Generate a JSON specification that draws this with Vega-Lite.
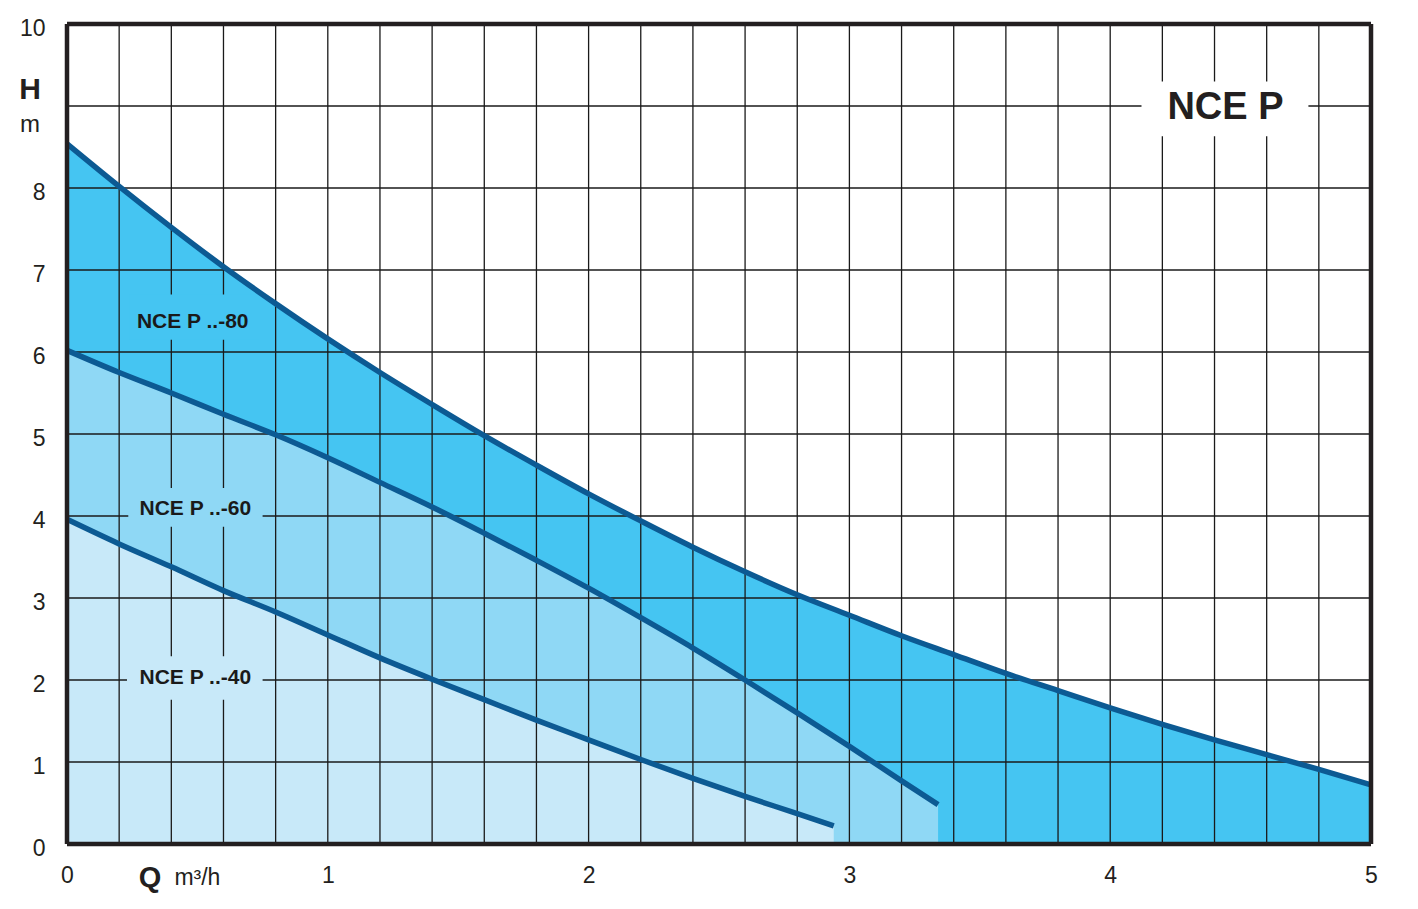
{
  "$schema": "https://vega.github.io/schema/vega-lite/v6.json",
  "autosize": {"type": "none"},
  "width": 1304,
  "height": 820,
  "padding": {"left": 67, "top": 24, "right": 47, "bottom": 65},
  "background": "white",
  "config": {
    "view": {"stroke": null},
    "font": "Liberation Sans",
    "axis": {"grid": false, "domain": false, "ticks": false, "labelFontSize": 23, "labelColor": "#231f20", "labelFont": "Liberation Sans", "title": null, "labelFlush": false, "labelOverlap": false},
    "axisX": {"labelPadding": 20},
    "axisY": {"labelPadding": 22, "labelOffset": 4}
  },
  "datasets": {
    "curves": [
      {"model": "80", "q": 0, "h": 8.54}, {"model": "80", "q": 0.2, "h": 8.02}, {"model": "80", "q": 0.4, "h": 7.52},
      {"model": "80", "q": 0.6, "h": 7.04}, {"model": "80", "q": 0.8, "h": 6.59}, {"model": "80", "q": 1.0, "h": 6.16},
      {"model": "80", "q": 1.2, "h": 5.75}, {"model": "80", "q": 1.4, "h": 5.36}, {"model": "80", "q": 1.6, "h": 4.98},
      {"model": "80", "q": 1.8, "h": 4.62}, {"model": "80", "q": 2.0, "h": 4.27}, {"model": "80", "q": 2.2, "h": 3.94},
      {"model": "80", "q": 2.4, "h": 3.62}, {"model": "80", "q": 2.6, "h": 3.32}, {"model": "80", "q": 2.8, "h": 3.04},
      {"model": "80", "q": 3.0, "h": 2.79}, {"model": "80", "q": 3.2, "h": 2.54}, {"model": "80", "q": 3.4, "h": 2.31},
      {"model": "80", "q": 3.6, "h": 2.08}, {"model": "80", "q": 3.8, "h": 1.87}, {"model": "80", "q": 4.0, "h": 1.66},
      {"model": "80", "q": 4.2, "h": 1.46}, {"model": "80", "q": 4.4, "h": 1.27}, {"model": "80", "q": 4.6, "h": 1.09},
      {"model": "80", "q": 4.8, "h": 0.91}, {"model": "80", "q": 5.0, "h": 0.72},
      {"model": "60", "q": 0, "h": 6.02}, {"model": "60", "q": 0.2, "h": 5.75}, {"model": "60", "q": 0.4, "h": 5.5},
      {"model": "60", "q": 0.6, "h": 5.24}, {"model": "60", "q": 0.8, "h": 4.99}, {"model": "60", "q": 1.0, "h": 4.71},
      {"model": "60", "q": 1.2, "h": 4.41}, {"model": "60", "q": 1.4, "h": 4.11}, {"model": "60", "q": 1.6, "h": 3.79},
      {"model": "60", "q": 1.8, "h": 3.46}, {"model": "60", "q": 2.0, "h": 3.12}, {"model": "60", "q": 2.2, "h": 2.76},
      {"model": "60", "q": 2.4, "h": 2.39}, {"model": "60", "q": 2.6, "h": 2.0}, {"model": "60", "q": 2.8, "h": 1.6},
      {"model": "60", "q": 3.0, "h": 1.19}, {"model": "60", "q": 3.2, "h": 0.77}, {"model": "60", "q": 3.34, "h": 0.48},
      {"model": "40", "q": 0, "h": 3.96}, {"model": "40", "q": 0.2, "h": 3.66}, {"model": "40", "q": 0.4, "h": 3.38},
      {"model": "40", "q": 0.6, "h": 3.09}, {"model": "40", "q": 0.8, "h": 2.83}, {"model": "40", "q": 1.0, "h": 2.55},
      {"model": "40", "q": 1.2, "h": 2.27}, {"model": "40", "q": 1.4, "h": 2.01}, {"model": "40", "q": 1.6, "h": 1.76},
      {"model": "40", "q": 1.8, "h": 1.51}, {"model": "40", "q": 2.0, "h": 1.27}, {"model": "40", "q": 2.2, "h": 1.03},
      {"model": "40", "q": 2.4, "h": 0.8}, {"model": "40", "q": 2.6, "h": 0.58}, {"model": "40", "q": 2.8, "h": 0.37},
      {"model": "40", "q": 2.94, "h": 0.22}
    ],
    "vgrid": [
      {"q": 0.2}, {"q": 0.4}, {"q": 0.6}, {"q": 0.8}, {"q": 1.0}, {"q": 1.2}, {"q": 1.4}, {"q": 1.6},
      {"q": 1.8}, {"q": 2.0}, {"q": 2.2}, {"q": 2.4}, {"q": 2.6}, {"q": 2.8}, {"q": 3.0}, {"q": 3.2},
      {"q": 3.4}, {"q": 3.6}, {"q": 3.8}, {"q": 4.0}, {"q": 4.2}, {"q": 4.4}, {"q": 4.6}, {"q": 4.8}
    ],
    "hgrid": [
      {"h": 1}, {"h": 2}, {"h": 3}, {"h": 4}, {"h": 5}, {"h": 6}, {"h": 7}, {"h": 8}, {"h": 9}
    ],
    "frameV": [{"q": 0}, {"q": 5}],
    "frameH": [{"h": 0}, {"h": 10}],
    "boxes": [
      {"name": "title", "q1": 4.12, "q2": 4.76, "h1": 8.63, "h2": 9.3, "fillc": "white"},
      {"name": "80", "q1": 0.24, "q2": 0.74, "h1": 6.15, "h2": 6.7, "fillc": "#45c5f2"},
      {"name": "60", "q1": 0.235, "q2": 0.75, "h1": 3.87, "h2": 4.34, "fillc": "#8fd8f5"},
      {"name": "40", "q1": 0.23, "q2": 0.75, "h1": 1.76, "h2": 2.29, "fillc": "#c8e9f9"}
    ],
    "labels": [
      {"text": "NCE P ..-80", "q": 0.482, "h": 6.37},
      {"text": "NCE P ..-60", "q": 0.492, "h": 4.09},
      {"text": "NCE P ..-40", "q": 0.492, "h": 2.02}
    ]
  },
  "encoding": {
    "x": {"field": "q", "type": "quantitative", "scale": {"domain": [0, 5], "nice": false, "zero": false},
      "axis": {"values": [0, 1, 2, 3, 4, 5], "format": "d"}},
    "y": {"field": "h", "type": "quantitative", "scale": {"domain": [0, 10], "nice": false},
      "axis": {"values": [0, 1, 2, 3, 4, 5, 6, 7, 8, 10], "format": "d"}}
  },
  "layer": [
    {
      "data": {"name": "curves"},
      "transform": [{"filter": "datum.model == '80'"}],
      "mark": {"type": "area", "color": "#45c5f2", "interpolate": "monotone"}
    },
    {
      "data": {"name": "curves"},
      "transform": [{"filter": "datum.model == '60'"}],
      "mark": {"type": "area", "color": "#8fd8f5", "interpolate": "monotone"}
    },
    {
      "data": {"name": "curves"},
      "transform": [{"filter": "datum.model == '40'"}],
      "mark": {"type": "area", "color": "#c8e9f9", "interpolate": "monotone"}
    },
    {
      "data": {"name": "vgrid"},
      "mark": {"type": "rule", "color": "#1a1a1a", "strokeWidth": 1.3},
      "encoding": {"x": {"field": "q", "type": "quantitative"}, "y": null}
    },
    {
      "data": {"name": "hgrid"},
      "mark": {"type": "rule", "color": "#1a1a1a", "strokeWidth": 1.3},
      "encoding": {"y": {"field": "h", "type": "quantitative"}, "x": null}
    },
    {
      "data": {"name": "boxes"},
      "mark": {"type": "rect"},
      "encoding": {
        "x": {"field": "q1", "type": "quantitative"},
        "x2": {"field": "q2"},
        "y": {"field": "h1", "type": "quantitative"},
        "y2": {"field": "h2"},
        "fill": {"field": "fillc", "type": "nominal", "scale": null}
      }
    },
    {
      "data": {"name": "curves"},
      "mark": {"type": "line", "color": "#0c5a93", "strokeWidth": 5.5, "interpolate": "monotone"},
      "encoding": {"detail": {"field": "model", "type": "nominal"}}
    },
    {
      "data": {"name": "labels"},
      "mark": {"type": "text", "fontSize": 21, "fontWeight": "bold", "color": "#1a1a1a", "font": "Liberation Sans"},
      "encoding": {"text": {"field": "text", "type": "nominal"}}
    },
    {
      "data": {"values": [{"text": "NCE P", "q": 4.442, "h": 8.97}]},
      "mark": {"type": "text", "fontSize": 38, "fontWeight": "bold", "color": "#231f20", "font": "Liberation Sans"},
      "encoding": {"text": {"field": "text", "type": "nominal"}}
    },
    {
      "data": {"values": [{"text": "H", "q": -0.142, "h": 9.2}]},
      "mark": {"type": "text", "fontSize": 30, "fontWeight": "bold", "color": "#231f20", "font": "Liberation Sans"},
      "encoding": {"text": {"field": "text", "type": "nominal"}}
    },
    {
      "data": {"values": [{"text": "m", "q": -0.142, "h": 8.77}]},
      "mark": {"type": "text", "fontSize": 24, "color": "#231f20", "font": "Liberation Sans"},
      "encoding": {"text": {"field": "text", "type": "nominal"}}
    },
    {
      "data": {"values": [{"text": "Q", "q": 0.318, "h": -0.41}]},
      "mark": {"type": "text", "fontSize": 29, "fontWeight": "bold", "color": "#231f20", "font": "Liberation Sans"},
      "encoding": {"text": {"field": "text", "type": "nominal"}}
    },
    {
      "data": {"values": [{"text": "m³/h", "q": 0.5, "h": -0.41}]},
      "mark": {"type": "text", "fontSize": 23, "color": "#231f20", "font": "Liberation Sans"},
      "encoding": {"text": {"field": "text", "type": "nominal"}}
    },
    {
      "data": {"name": "frameV"},
      "mark": {"type": "rule", "color": "#231f20", "strokeWidth": 4.5},
      "encoding": {"x": {"field": "q", "type": "quantitative"}, "y": null}
    },
    {
      "data": {"name": "frameH"},
      "mark": {"type": "rule", "color": "#231f20", "strokeWidth": 4.5},
      "encoding": {"y": {"field": "h", "type": "quantitative"}, "x": null}
    }
  ]
}
